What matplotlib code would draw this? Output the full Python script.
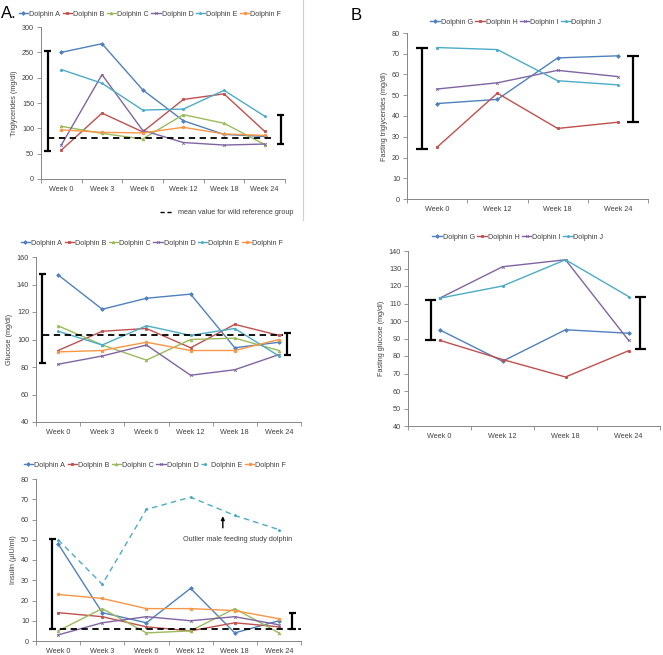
import matplotlib
matplotlib.use("Agg")
import matplotlib.pyplot as plt
from matplotlib.lines import Line2D

plt.rcParams['font.family'] = ['Liberation Sans', 'DejaVu Sans']

weeks_a = ["Week 0", "Week 3", "Week 6", "Week 12", "Week 18", "Week 24"]
weeks_b = ["Week 0", "Week 12", "Week 18", "Week 24"]
names_a = ["Dolphin A", "Dolphin B", "Dolphin C", "Dolphin D", "Dolphin E", "Dolphin F"]
names_b = ["Dolphin G", "Dolphin H", "Dolphin I", "Dolphin J"]

trig_a = [
    [250, 267, 176, 115, 88, 84],
    [57, 130, 93, 157, 168, 94],
    [104, 90, 79, 127, 110, 68],
    [67, 206, 96, 72, 67, 69],
    [216, 189, 136, 138, 175, 124],
    [97, 92, 91, 102, 89, 86],
]
trig_a_ref = 80
trig_a_bars = [(55, 253), (69, 126)]

glu_a = [
    [147, 122, 130, 133, 94, 98],
    [92, 106, 108, 94, 111, 103],
    [110, 96, 85, 100, 101, 92],
    [82, 88, 96, 74, 78, 89],
    [106, 96, 110, 103, 108, 88],
    [91, 92, 98, 92, 92, 100],
]
glu_a_ref = 103
glu_a_bars = [(83, 148), (89, 105)]

ins_a = [
    [48, 14, 9, 26, 4, 10],
    [14, 12, 7, 5, 9, 7],
    [5, 16, 4, 5, 16, 4],
    [3, 9, 12, 10, 12, 8],
    [50, 28, 65, 71, 62, 55],
    [23, 21, 16, 16, 15, 11],
]
ins_a_ref = 6
ins_a_bars = [(6, 50.5), (6, 14)]

trig_b = [
    [46, 48, 68, 69],
    [25, 51, 34, 37],
    [53, 56, 62, 59],
    [73, 72, 57, 55],
]
trig_b_bars = [(24, 73), (37, 69)]

glu_b = [
    [95, 77, 95, 93],
    [89, 78, 68, 83],
    [113, 131, 135, 89],
    [113, 120, 135, 114],
]
glu_b_bars = [(89, 112), (84, 114)]

col_a = ["#4F81BD", "#C0504D", "#9BBB59", "#8064A2", "#4BACC6", "#F79646"]
col_b = ["#4F81BD", "#C0504D", "#8064A2", "#4BACC6"]
mk_a = ["D", "s", "^", "x", "*", "o"]
mk_b = ["D", "s", "x", "*"]

W, H = 663, 655
fig = plt.figure(figsize=(W / 100, H / 100), dpi=100)
fig.patch.set_facecolor("white")

FS = 5.2
GREY = "#868686"
TXT = "#404040"


def add_ax(left, top, right, bottom):
    return fig.add_axes([left / W, 1 - bottom / H, (right - left) / W, (bottom - top) / H])


def style(ax, cats, ylim, ystep, ylabel):
    n = len(cats)
    ax.set_xlim(-0.5, n - 0.5)
    ax.set_ylim(*ylim)
    ax.set_yticks(range(ylim[0], ylim[1] + 1, ystep))
    ax.set_xticks(range(n))
    ax.set_xticklabels(cats)
    ax.set_xticks([i - 0.5 for i in range(n + 1)], minor=True)
    ax.tick_params(axis='x', which='major', length=0, labelsize=FS, colors=TXT, pad=5)
    ax.tick_params(axis='x', which='minor', length=3, color=GREY, width=0.6)
    ax.tick_params(axis='y', which='major', length=3, labelsize=FS, colors=TXT, color=GREY, width=0.6, pad=2)
    for s in ["top", "right"]:
        ax.spines[s].set_visible(False)
    for s in ["left", "bottom"]:
        ax.spines[s].set_color(GREY)
        ax.spines[s].set_linewidth(0.7)
    ax.set_ylabel(ylabel, fontsize=FS, color=TXT, labelpad=3)
    ax.patch.set_alpha(0)


def errbar(ax, x, lo, hi, cap=0.08):
    ax.plot([x, x], [lo, hi], color="black", lw=1.6, solid_capstyle='butt', zorder=5)
    ax.plot([x - cap, x + cap], [lo, lo], color="black", lw=1.6, solid_capstyle='butt', zorder=5)
    ax.plot([x - cap, x + cap], [hi, hi], color="black", lw=1.6, solid_capstyle='butt', zorder=5)


def legend(ax, handles, labels, cx, cy):
    ax.legend(handles, labels, loc='center', bbox_to_anchor=(cx / W, 1 - cy / H),
              bbox_transform=fig.transFigure, ncol=len(labels), frameon=False,
              fontsize=FS, handlelength=1.3, columnspacing=0.35, handletextpad=0.12,
              labelcolor=TXT, borderpad=0.1)


def series(ax, data, cols, mks, dashed_idx=None):
    hs = []
    for i, vals in enumerate(data):
        ls = (0, (4, 3)) if dashed_idx == i else '-'
        h, = ax.plot(range(len(vals)), vals, color=cols[i], lw=1.0, ls=ls,
                     marker=mks[i], ms=1.9, mew=0.6)
        hs.append(h)
    return hs


# Panel A - triglycerides
ax1 = add_ax(41, 27, 285, 179)
style(ax1, weeks_a, (0, 300), 50, "Triglycerides (mg/dl)")
h = series(ax1, trig_a, col_a, mk_a)
ax1.plot([-0.32, 5.25], [trig_a_ref] * 2, color="black", lw=1.3, ls=(0, (3.5, 2.5)))
errbar(ax1, -0.34, *trig_a_bars[0])
errbar(ax1, 5.39, *trig_a_bars[1])
legend(ax1, h, names_a, 150, 14)

# Panel A - glucose
ax2 = add_ax(36, 257, 301, 422)
style(ax2, weeks_a, (40, 160), 20, "Glucose (mg/dl)")
h = series(ax2, glu_a, col_a, mk_a)
ax2.plot([-0.35, 5.1], [glu_a_ref] * 2, color="black", lw=1.3, ls=(0, (3.5, 2.5)))
errbar(ax2, -0.36, *glu_a_bars[0])
errbar(ax2, 5.19, *glu_a_bars[1])
legend(ax2, h, names_a, 152, 243)

# Panel A - insulin
ax3 = add_ax(36, 479, 301, 641)
style(ax3, weeks_a, (0, 80), 10, "Insulin (µIU/ml)")
h = series(ax3, ins_a, col_a, mk_a, dashed_idx=4)
ax3.plot([-0.2, 5.5], [ins_a_ref] * 2, color="black", lw=1.3, ls=(0, (3.5, 2.5)))
errbar(ax3, -0.13, *ins_a_bars[0])
errbar(ax3, 5.3, *ins_a_bars[1])
ax3.annotate("", xy=(3.73, 63), xytext=(3.73, 54.5),
             arrowprops=dict(arrowstyle="-|>", color="black", lw=1.0, mutation_scale=5))
ax3.text(2.82, 50, "Outlier male feeding study dolphin", fontsize=FS, color=TXT,
         ha='left', va='center', clip_on=False)
legend(ax3, h, names_a, 155, 465)

# Panel B - triglycerides
ax4 = add_ax(407, 33, 648, 199)
style(ax4, weeks_b, (0, 80), 10, "Fasting triglycerides (mg/dl)")
h = series(ax4, trig_b, col_b, mk_b)
errbar(ax4, -0.25, *trig_b_bars[0], cap=0.1)
errbar(ax4, 3.25, *trig_b_bars[1], cap=0.1)
legend(ax4, h, names_b, 516, 22)

# Panel B - glucose
ax5 = add_ax(408, 251, 660, 426)
style(ax5, weeks_b, (40, 140), 10, "Fasting glucose (mg/dl)")
h = series(ax5, glu_b, col_b, mk_b)
errbar(ax5, -0.14, *glu_b_bars[0], cap=0.09)
errbar(ax5, 3.19, *glu_b_bars[1], cap=0.09)
legend(ax5, h, names_b, 518, 237)

# Panel labels and notes
fig.text(1 / W, 1 - 13 / H, "A.", fontsize=12, ha='left', va='center', color="black")
fig.text(351 / W, 1 - 16 / H, "B", fontsize=12, ha='left', va='center', color="black")
fig.add_artist(Line2D([160 / W, 172 / W], [1 - 212 / H] * 2, color="black", lw=1.0,
                      ls=(0, (3, 2)), transform=fig.transFigure))
fig.text(178 / W, 1 - 212 / H, "mean value for wild reference group", fontsize=FS,
         ha='left', va='center', color=TXT)
fig.add_artist(Line2D([303 / W, 303 / W], [1.0, 1 - 220 / H], color="#d0d0d0", lw=0.8,
                      transform=fig.transFigure))

fig.savefig("out.png", dpi=100, facecolor="white")
